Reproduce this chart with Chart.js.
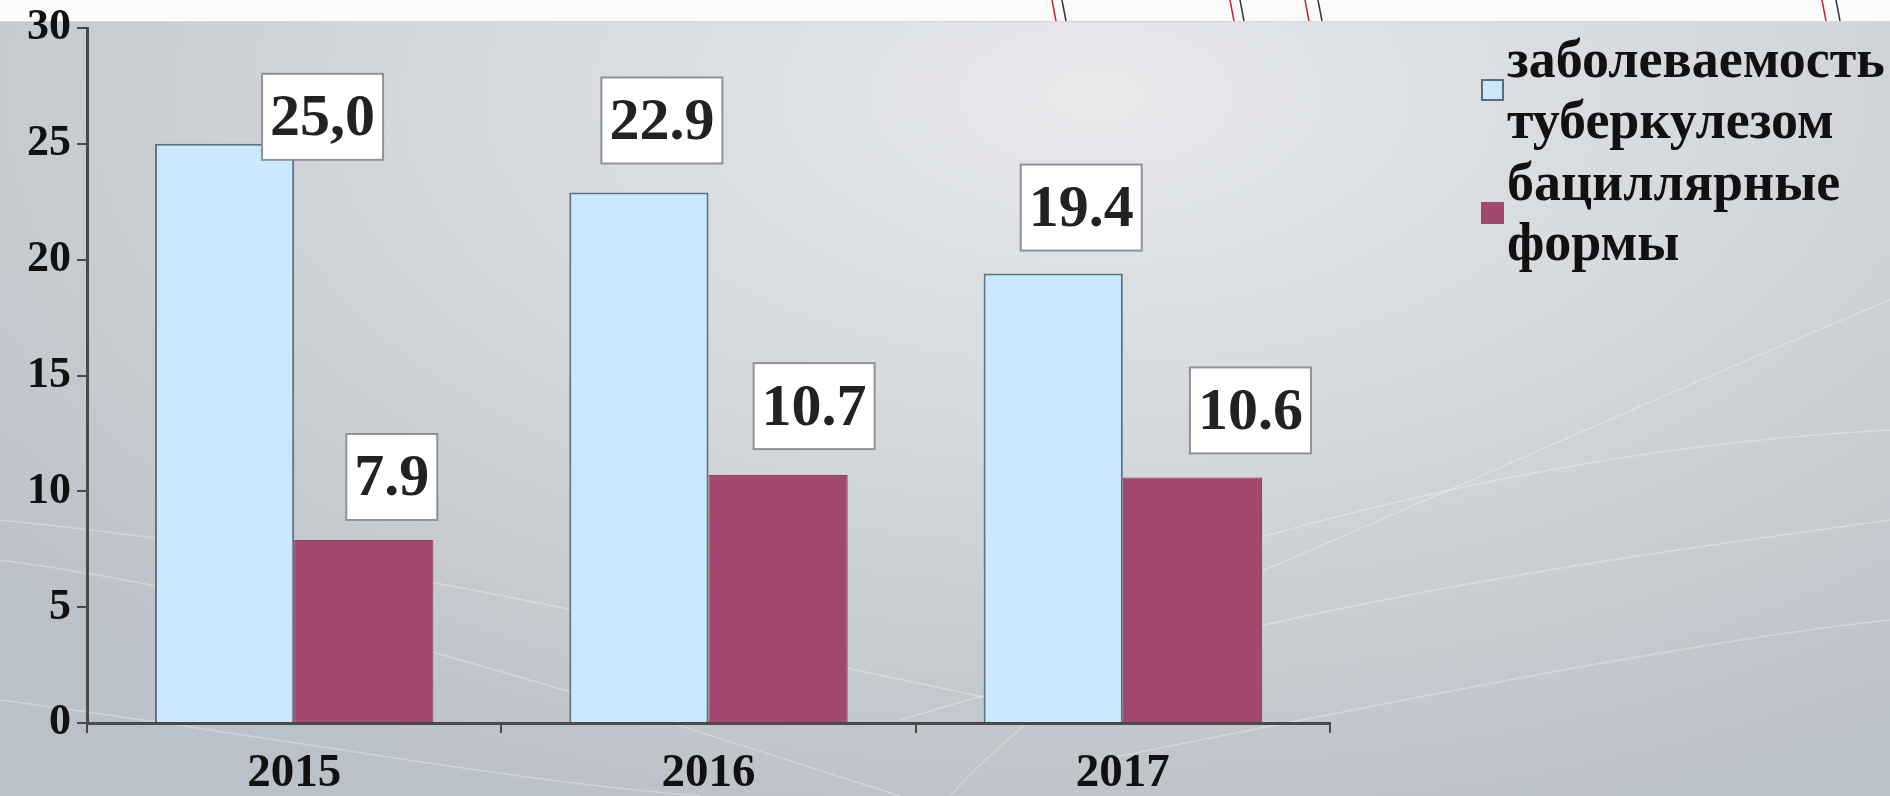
<!DOCTYPE html>
<html lang="ru">
<head>
  <meta charset="UTF-8" />
  <title>Заболеваемость туберкулезом</title>
  <script src="https://cdn.jsdelivr.net/npm/chart.js"></script>
  <style>
    html, body {
      margin: 0;
      padding: 0;
      width: 1890px;
      height: 796px;
      overflow: hidden;
    }
    body {
      background: radial-gradient(ellipse 75% 95% at 58% 12%, #e7e9eb 0%, #d5d8dc 45%, #bbc1c8 100%);
      position: relative;
    }
    .top-strip {
      position: absolute;
      left: 0; top: 0;
      width: 1890px; height: 21px;
      background: #fbfbfb;
      border-bottom: 1px solid #d8d8d8;
    }
    #chart {
      position: absolute;
      left: 0; top: 0;
    }
  </style>
</head>
<body>
  <div class="top-strip"></div>
  <canvas id="chart" width="1890" height="796"></canvas>
  <script>
    const years = ["2015", "2016", "2017"];
    const incidence = [25.0, 22.9, 19.4];
    const bacillary = [7.9, 10.7, 10.6];
    const incidenceText = ["25,0", "22.9", "19.4"];
    const bacillaryText = ["7.9", "10.7", "10.6"];
    const seriesNames = [["заболеваемость", "туберкулезом"], ["бациллярные", "формы"]];
    const yMin = 0, yMax = 30, yStep = 5;

    // where each value box sits relative to the top of its bar (px)
    const labelShift = [
      [[98, -27], [23, -72], [28, -66]],
      [[28, -63], [36, -69], [58, -67]]
    ];

    const serif = "'Liberation Serif', 'DejaVu Serif', serif";

    // faint white swooshes and the top strip decoration
    const backdrop = {
      id: "backdrop",
      beforeDraw(chart) {
        const c = chart.ctx;
        c.save();
        c.strokeStyle = "rgba(255,255,255,0.3)";
        c.lineWidth = 1.5;
        const curves = [
          [0, 520, 400, 560, 700, 640, 1000, 700],
          [0, 560, 300, 600, 600, 700, 900, 796],
          [0, 700, 300, 740, 500, 780, 700, 796],
          [1000, 680, 1300, 560, 1600, 420, 1890, 300],
          [900, 720, 1300, 600, 1600, 560, 1890, 520],
          [1100, 760, 1400, 700, 1700, 640, 1890, 620],
          [1250, 540, 1500, 470, 1700, 440, 1890, 430],
          [950, 796, 1000, 740, 1100, 660, 1250, 560]
        ];
        curves.forEach(p => {
          c.beginPath();
          c.moveTo(p[0], p[1]);
          c.bezierCurveTo(p[2], p[3], p[4], p[5], p[6], p[7]);
          c.stroke();
        });
        // thin red / dark strokes peeking in the top strip
        const marks = [[1052, "#c0282d"], [1062, "#333"], [1230, "#c0282d"], [1240, "#333"], [1305, "#c0282d"], [1318, "#333"], [1822, "#c0282d"], [1836, "#333"]];
        c.lineWidth = 1.5;
        marks.forEach(m => {
          c.strokeStyle = m[1];
          c.beginPath();
          c.moveTo(m[0], 0);
          c.lineTo(m[0] + 4, 21);
          c.stroke();
        });
        c.restore();
      }
    };

    const valueBoxes = {
      id: "valueBoxes",
      afterDatasetsDraw(chart) {
        const c = chart.ctx;
        const texts = [incidenceText, bacillaryText];
        c.save();
        c.font = "bold 60px " + serif;
        c.textAlign = "center";
        c.textBaseline = "middle";
        chart.data.datasets.forEach((ds, di) => {
          chart.getDatasetMeta(di).data.forEach((bar, i) => {
            const t = texts[di][i];
            const cx = bar.x + labelShift[di][i][0];
            const cy = bar.y + labelShift[di][i][1];
            const w = c.measureText(t).width + 16;
            const h = 86;
            c.fillStyle = "#ffffff";
            c.fillRect(cx - w / 2, cy - h / 2, w, h);
            c.strokeStyle = "#8f9397";
            c.lineWidth = 2;
            c.strokeRect(cx - w / 2, cy - h / 2, w, h);
            c.fillStyle = "#222222";
            c.fillText(t, cx, cy + 3);
          });
        });
        c.restore();
      }
    };

    const sideLegend = {
      id: "sideLegend",
      afterDraw(chart) {
        const c = chart.ctx;
        const baselines = [[77, 138], [200, 260]];
        c.save();
        c.font = "bold 54px " + serif;
        c.textBaseline = "alphabetic";
        c.textAlign = "left";
        chart.data.datasets.forEach((ds, di) => {
          const lines = seriesNames[di];
          const sy = baselines[di][0] + 3;
          c.fillStyle = ds.backgroundColor;
          c.fillRect(1482, sy, 21, 20);
          c.strokeStyle = di === 0 ? "#5d6c7a" : "#9a4a70";
          c.lineWidth = 2;
          c.strokeRect(1482, sy, 21, 20);
          c.fillStyle = "#111111";
          lines.forEach((ln, k) => c.fillText(ln, 1507, baselines[di][k]));
        });
        c.restore();
      }
    };

    new Chart(document.getElementById("chart"), {
      type: "bar",
      data: {
        labels: years,
        datasets: [
          {
            label: seriesNames[0].join(" "),
            data: incidence,
            backgroundColor: "#c9e8fb",
            borderColor: "#5e7183",
            borderWidth: 2
          },
          {
            label: seriesNames[1].join(" "),
            data: bacillary,
            backgroundColor: "#a3496f",
            borderColor: "#8c3b5f",
            borderWidth: 1
          }
        ]
      },
      options: {
        responsive: false,
        devicePixelRatio: 1,
        animation: false,
        layout: { padding: { left: 0, top: 22, right: 560, bottom: 0 } },
        plugins: {
          legend: { display: false },
          tooltip: { enabled: false }
        },
        datasets: {
          bar: { categoryPercentage: 0.672, barPercentage: 1 }
        },
        scales: {
          x: {
            grid: { display: true, drawOnChartArea: false, drawTicks: true, tickLength: 10, color: "#4a4a4a", lineWidth: 2 },
            border: { display: true, color: "#4a4a4a", width: 3 },
            ticks: { color: "#111", padding: 17, font: { family: serif, size: 47, weight: "bold", lineHeight: 1 } },
            afterFit(scale) { scale.height = 73; }
          },
          y: {
            min: yMin,
            max: yMax,
            ticks: { stepSize: yStep, color: "#111", padding: 6, font: { family: serif, size: 44, weight: "bold", lineHeight: 1 } },
            grid: { display: true, drawOnChartArea: false, drawTicks: true, tickLength: 10, color: "#4a4a4a", lineWidth: 2 },
            border: { display: true, color: "#4a4a4a", width: 3 },
            afterFit(scale) { scale.width = 87; }
          }
        }
      },
      plugins: [backdrop, valueBoxes, sideLegend]
    });
  </script>
</body>
</html>
